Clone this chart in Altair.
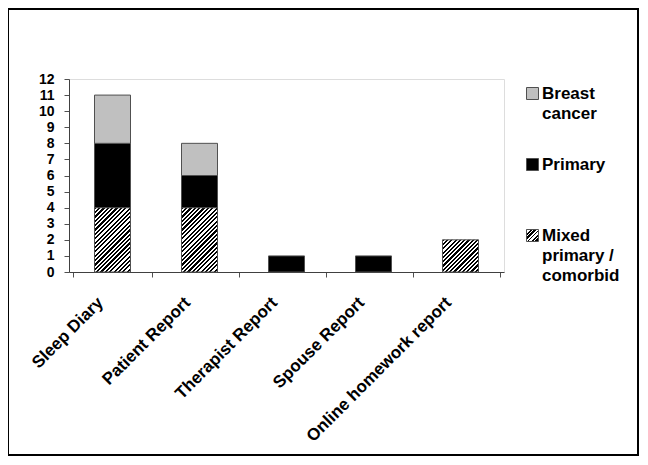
import altair as alt
import pandas as pd

# ---- data ----
categories = ["Sleep Diary", "Patient Report", "Therapist Report", "Spouse Report", "Online homework report"]
series = ["Mixed primary / comorbid", "Primary", "Breast cancer"]
mixed = [4, 4, 0, 0, 2]
primary = [4, 2, 1, 1, 0]
breast = [3, 2, 0, 0, 0]
y_ticks = list(range(0, 13))
legend_order = ["Breast cancer", "Primary", "Mixed primary / comorbid"]

rows = []
for i, c in enumerate(categories):
    for k, (s, vals) in enumerate(zip(series, [mixed, primary, breast])):
        if vals[i] > 0:
            rows.append({"category": c, "series": s, "value": vals[i], "ord": k})
df = pd.DataFrame(rows)

# ---- styling ----
W, H = 435, 193
BAR = 36
UNIT = H / 12.0
PERIOD = 4.3
FONT = "Liberation Sans"
GRAY = "#c0c0c0"


def hatch(w, h, period):
    n = max(1, round((w + h) / period))
    d = w * w + h * h
    x2 = w * (w + h) / d
    y2 = h * (w + h) / d
    stops = []
    for i in range(n):
        a, m, b = round(i / n, 5), round((i + 0.5) / n, 5), round((i + 1) / n, 5)
        stops += [
            {"offset": a, "color": "black"},
            {"offset": m, "color": "black"},
            {"offset": m, "color": "white"},
            {"offset": b, "color": "white"},
        ]
    return {"gradient": "linear", "x1": 0, "y1": 0, "x2": round(x2, 5), "y2": round(y2, 5), "stops": stops}


def to_expr(g):
    stops = ",".join("{offset:%s,color:'%s'}" % (s["offset"], s["color"]) for s in g["stops"])
    return "{gradient:'linear',x1:%s,y1:%s,x2:%s,y2:%s,stops:[%s]}" % (
        g["x1"], g["y1"], g["x2"], g["y2"], stops)


mixed_heights = sorted(set(v for v in mixed if v > 0))
fill = alt.when(alt.datum.series == "Primary").then(alt.value("black")).when(
    alt.datum.series == "Breast cancer").then(alt.value(GRAY))
for v in mixed_heights[:-1]:
    fill = fill.when(alt.datum.value == v).then(alt.value(hatch(BAR, v * UNIT, PERIOD)))
fill = fill.otherwise(alt.value(hatch(BAR, mixed_heights[-1] * UNIT, PERIOD)))

bars = alt.Chart(df).mark_bar(size=BAR, stroke="#505050", strokeWidth=1).encode(
    x=alt.X("category:N", sort=categories, title=None,
            axis=alt.Axis(labelAngle=-45, labelAlign="right", labelBaseline="top",
                          labelFont=FONT, labelFontSize=17, labelFontWeight="bold",
                          labelColor="black", labelPadding=17, labelOffset=-18,
                          tickBand="extent", tickSize=5, tickColor="#505050",
                          domainColor="#404040", labelLimit=300)),
    y=alt.Y("value:Q", stack="zero", title=None,
            scale=alt.Scale(domain=[0, 12], nice=False),
            axis=alt.Axis(values=y_ticks, format="d", labelFont=FONT, labelFontSize=14,
                          labelFontWeight="bold", labelColor="black", tickSize=5,
                          labelPadding=10, tickColor="#505050", domainColor="#404040",
                          grid=False)),
    detail="series:N",
    order=alt.Order("ord:Q"),
    fill=fill,
)

legend_grad = to_expr(hatch(12, 12, PERIOD))
label_expr = ("datum.label == 'Breast cancer' ? ['Breast', 'cancer', ''] : "
              "datum.label == 'Mixed primary / comorbid' ? ['Mixed', 'primary /', 'comorbid'] : "
              "[datum.label, '', '']")
legend_layer = alt.Chart(df).transform_filter("false").mark_square(filled=True, opacity=1).encode(
    fill=alt.Fill("series:N",
                  scale=alt.Scale(domain=legend_order,
                                  range=[GRAY, "black", alt.ExprRef(expr=legend_grad)]),
                  legend=alt.Legend(title=None, orient="none", legendX=455, legendY=6,
                                    symbolType="square", symbolSize=144, symbolOpacity=1,
                                    symbolStrokeColor="#505050", symbolStrokeWidth=1,
                                    labelFont=FONT, labelFontSize=17, labelFontWeight="bold",
                                    labelColor="black", labelOffset=1, rowPadding=13,
                                    labelLimit=300, padding=0, labelExpr=label_expr))
)

frame = alt.Chart(pd.DataFrame({"k": [0]})).mark_rect(
    filled=False, stroke="black", strokeWidth=2).encode(
    x=alt.value(-61), x2=alt.value(569), y=alt.value(-70), y2=alt.value(376))

chart = alt.layer(bars, legend_layer, frame).properties(
    width=W, height=H,
    autosize=alt.AutoSizeParams(type="none"),
    padding={"left": 61, "top": 71, "right": 136, "bottom": 185},
    background="white",
).configure_view(stroke="#808080", strokeWidth=1).configure(
    style={"guide-label": {"lineHeight": 20}})

chart.save("out.html", embed_options={"renderer": "svg", "actions": False})
